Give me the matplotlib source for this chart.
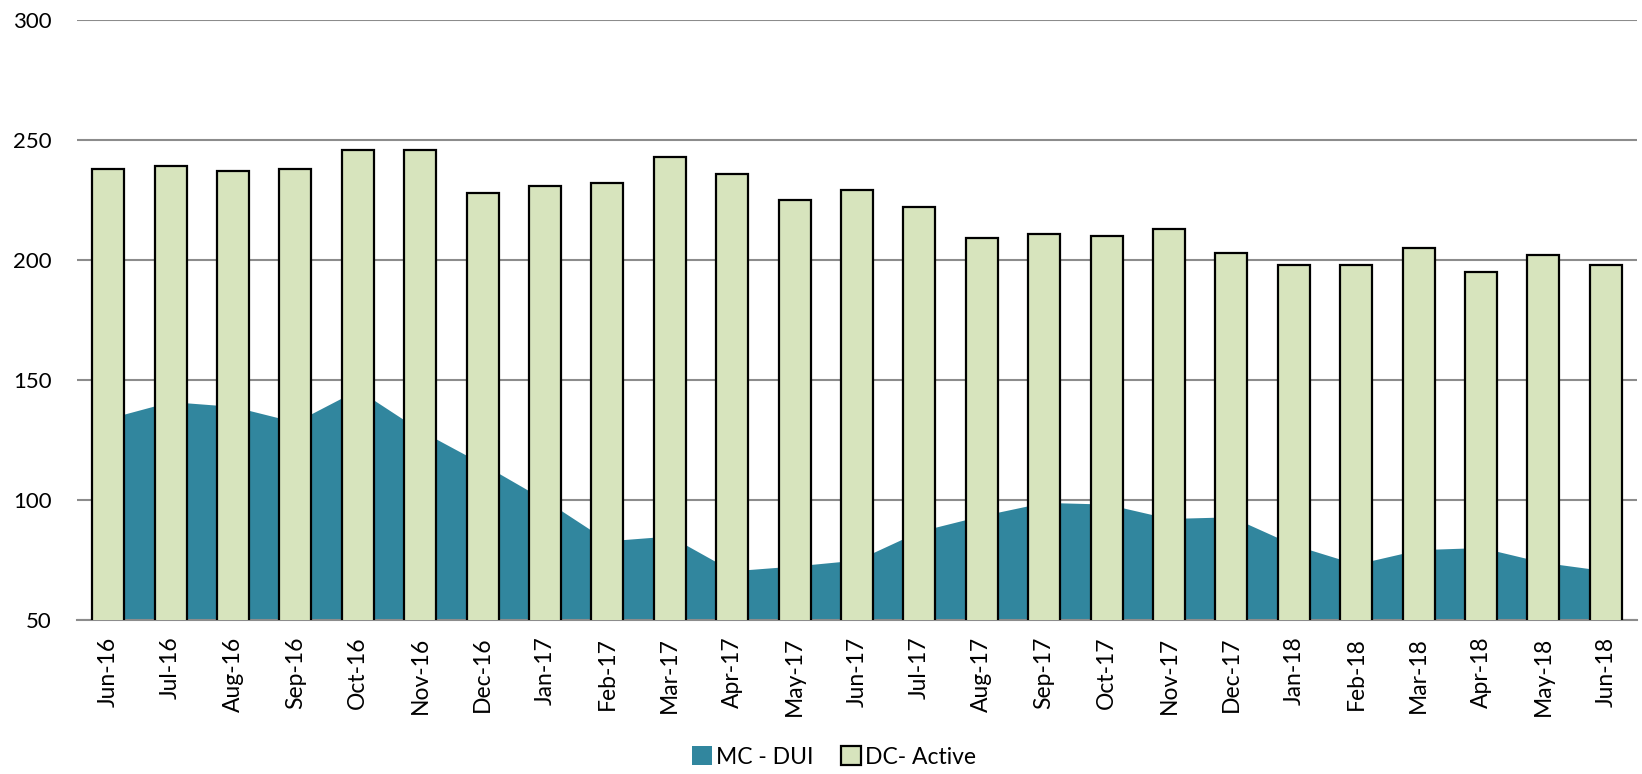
import matplotlib.pyplot as plt
import numpy as np

plt.rcParams["font.family"] = ["Lato", "DejaVu Sans"]
plt.rcParams["font.size"] = 16

months = ["Jun-16", "Jul-16", "Aug-16", "Sep-16", "Oct-16", "Nov-16", "Dec-16",
          "Jan-17", "Feb-17", "Mar-17", "Apr-17", "May-17", "Jun-17", "Jul-17",
          "Aug-17", "Sep-17", "Oct-17", "Nov-17", "Dec-17", "Jan-18", "Feb-18",
          "Mar-18", "Apr-18", "May-18", "Jun-18"]
dc_active = [238, 239, 237, 238, 246, 246, 228, 231, 232, 243, 236, 225, 229,
             222, 209, 211, 210, 213, 203, 198, 198, 205, 195, 202, 198]
mc_dui = [134, 141, 139, 132.5, 146, 129, 115, 100, 83, 85, 70.5, 72.5, 75,
          87, 93.5, 99, 98.3, 92.3, 93, 81.3, 73.3, 79.3, 80.2, 74, 70.5]
y_ticks = [50, 100, 150, 200, 250, 300]

x = np.arange(len(months))

fig = plt.figure(figsize=(16.42, 7.74), dpi=100)
ax = fig.add_axes([77 / 1642, 1 - 620 / 774, 1560 / 1642, 600 / 774])

# area behind, bars on top
ax.fill_between(x, 50, mc_dui, color="#31869e", linewidth=0, zorder=2, label="MC - DUI")
ax.bar(x, dc_active, width=0.51, bottom=0, color="#d7e4bd", edgecolor="black",
       linewidth=1.6, zorder=3, label="DC- Active")

ax.set_xlim(-0.5, len(months) - 0.5)
ax.set_ylim(50, 300)
ax.set_yticks(y_ticks)
ax.yaxis.grid(True, color="#8c8c8c", linewidth=1.5, zorder=0)
ax.set_axisbelow(True)

for s in ["top", "right", "left"]:
    ax.spines[s].set_visible(False)
ax.spines["bottom"].set_color("#8c8c8c")
ax.spines["bottom"].set_linewidth(1.5)

ax.set_xticks(x)
ax.set_xticklabels(months, rotation=90, fontsize=16.5)
ax.tick_params(axis="x", length=0, pad=12)
ax.tick_params(axis="y", length=0, pad=18)

handles, labels = ax.get_legend_handles_labels()
fig.legend(handles, labels, loc="center", bbox_to_anchor=(0.508, 1 - 757 / 774),
           ncol=2, frameon=False, handlelength=0.85, handleheight=0.85,
           handletextpad=0.2, columnspacing=1.2, fontsize=16.5)

plt.savefig("out.png", dpi=100)
